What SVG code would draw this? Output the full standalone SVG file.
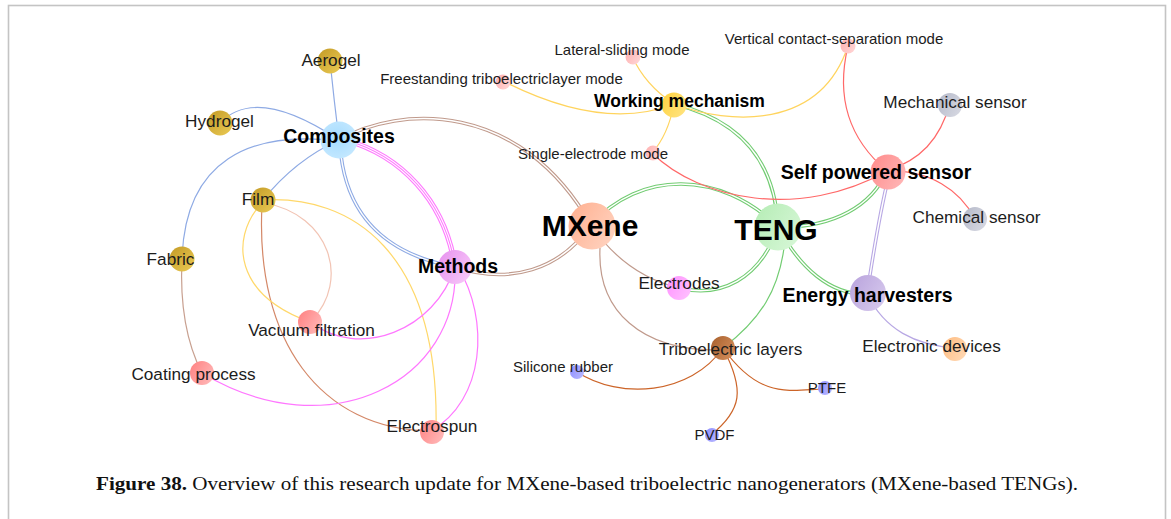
<svg xmlns="http://www.w3.org/2000/svg" xmlns:xlink="http://www.w3.org/1999/xlink" width="1171" height="519" viewBox="0 0 1171 519">
<style>
.e{fill:none;stroke-width:1.2}
.o{fill:none;stroke-width:3.6}
.i{fill:none;stroke:#fff;stroke-width:1.4}
.t5{fill:none;stroke-width:5.4}
.t3{fill:none;stroke:#fff;stroke-width:3.2}
.t1{fill:none;stroke-width:1.1}
.blue{stroke:#8eaae4}
.pink{stroke:#ff77ff}
.brown{stroke:#c09a8c}
.green{stroke:#72cc72}
.yellow{stroke:#ffd45e}
.red{stroke:#ff6868}
.purple{stroke:#b8a8e4}
.orange{stroke:#cc6428}
.lpink{stroke:#f2c4b4}
.yel2{stroke:#ffd86a}
.rbrown{stroke:#d48868}
.fbrown{stroke:#c8a090}
text{font-family:"Liberation Sans",Arial,sans-serif;fill:#1c1c1c;text-anchor:middle}
.s{font-size:15px}
.m{font-size:17.2px}
.b{font-size:19.5px;font-weight:bold;fill:#000}
.wb{font-size:17.5px;font-weight:bold;fill:#000}
.xl{font-size:30px;font-weight:bold;fill:#000}
.cap{font-family:"Liberation Serif","Times New Roman",serif;font-size:19px;text-anchor:start;fill:#111}
</style>
<defs>
<linearGradient id="gGold" x1="0" y1="0" x2="1" y2="1"><stop offset="0" stop-color="#c39a26"/><stop offset="1" stop-color="#ebcb55"/></linearGradient>
<linearGradient id="gRed" x1="0" y1="0" x2="1" y2="0.6"><stop offset="0" stop-color="#ff8080"/><stop offset="1" stop-color="#ffb4b4"/></linearGradient>
<linearGradient id="gLpink" x1="0" y1="0" x2="1" y2="0.6"><stop offset="0" stop-color="#ffb0b0"/><stop offset="1" stop-color="#ffd2d2"/></linearGradient>
<radialGradient id="gBlue" cx="0.45" cy="0.45" r="0.6"><stop offset="0" stop-color="#a6dcff"/><stop offset="1" stop-color="#c4e8ff"/></radialGradient>
<linearGradient id="gViolet" x1="0" y1="0" x2="1" y2="0.6"><stop offset="0" stop-color="#e690ee"/><stop offset="1" stop-color="#f6c4f8"/></linearGradient>
<linearGradient id="gMx" x1="0" y1="0" x2="1" y2="0.6"><stop offset="0" stop-color="#ffae8e"/><stop offset="1" stop-color="#ffd0bc"/></linearGradient>
<linearGradient id="gTeng" x1="0" y1="0" x2="1" y2="0.6"><stop offset="0" stop-color="#b4ecb4"/><stop offset="1" stop-color="#d4f6d4"/></linearGradient>
<linearGradient id="gYel" x1="0" y1="0" x2="1" y2="0.6"><stop offset="0" stop-color="#ffd23e"/><stop offset="1" stop-color="#ffe27a"/></linearGradient>
<linearGradient id="gSelf" x1="0" y1="0" x2="1" y2="0.6"><stop offset="0" stop-color="#ff8a8a"/><stop offset="1" stop-color="#ffb2b2"/></linearGradient>
<linearGradient id="gGray" x1="0" y1="0" x2="1" y2="0.6"><stop offset="0" stop-color="#b4b8c8"/><stop offset="1" stop-color="#d4d6e0"/></linearGradient>
<linearGradient id="gPur" x1="0" y1="0" x2="1" y2="0.6"><stop offset="0" stop-color="#b8a2dc"/><stop offset="1" stop-color="#d4c6ec"/></linearGradient>
<linearGradient id="gOra" x1="0" y1="0" x2="1" y2="0.6"><stop offset="0" stop-color="#ffbc80"/><stop offset="1" stop-color="#ffd6b0"/></linearGradient>
<linearGradient id="gMag" x1="0" y1="0" x2="1" y2="0.6"><stop offset="0" stop-color="#ff90ff"/><stop offset="1" stop-color="#ffbcff"/></linearGradient>
<linearGradient id="gTri" x1="0" y1="0" x2="1" y2="0.6"><stop offset="0" stop-color="#a8602c"/><stop offset="1" stop-color="#d08a58"/></linearGradient>
<linearGradient id="gBv" x1="0" y1="0" x2="1" y2="0.6"><stop offset="0" stop-color="#8c8cff"/><stop offset="1" stop-color="#b4b4ff"/></linearGradient>
<path id="p-comp-meth-b" d="M340,145 C345,220 390,255 455,267"/>
<path id="p-comp-meth-p" d="M345,140 C400,155 445,200 455,267"/>
<path id="p-comp-mx" d="M339,140 C400,105 520,100 591,225"/>
<path id="p-mx-meth" d="M591,225 C560,270 510,285 455,267"/>
<path id="p-mx-teng" d="M591,225 C640,170 720,170 778,227"/>
<path id="p-teng-wm" d="M674,104 C740,120 775,160 778,227"/>
<path id="p-teng-self" d="M778,227 C835,228 872,205 887,171"/>
<path id="p-teng-eh" d="M778,227 C800,268 830,295 867,294"/>
<path id="p-self-eh" d="M889,175 C878,220 874,250 867,294"/>
<path id="p-teng-el" d="M778,227 C760,280 720,298 679,288"/>
</defs>
<rect x="8.5" y="5.5" width="1157" height="540" fill="#fff" stroke="#c4c4c4" stroke-width="1.6"/>
<g id="connectors">
<path class="e blue" d="M339,140 Q334,100 330,61"/>
<path class="e blue" d="M220,123 Q256,85 339,140"/>
<path class="e blue" d="M339,141 C250,130 185,160 182,259"/>
<path class="e blue" d="M339,140 Q295,160 263,200"/>
<use xlink:href="#p-comp-meth-b" class="o blue"/>
<use xlink:href="#p-comp-meth-b" class="i"/>
<use xlink:href="#p-comp-meth-p" class="t5 pink"/>
<use xlink:href="#p-comp-meth-p" class="t3"/>
<use xlink:href="#p-comp-meth-p" class="t1 pink"/>
<use xlink:href="#p-comp-mx" class="o brown"/>
<use xlink:href="#p-comp-mx" class="i"/>
<path class="e yel2" d="M263,200 C350,195 440,250 436,431"/>
<path class="e rbrown" d="M262,205 C255,340 320,430 431,431"/>
<path class="e yel2" d="M260,205 C230,240 235,295 310,322"/>
<path class="e lpink" d="M265,203 C330,215 350,280 312,320"/>
<path class="e fbrown" d="M182,259 C180,300 185,340 202,373"/>
<path class="e pink" d="M455,267 C435,330 360,360 310,322"/>
<path class="e pink" d="M455,267 C460,380 330,450 202,373"/>
<path class="e pink" d="M458,267 C490,320 485,400 431,431"/>
<use xlink:href="#p-mx-meth" class="o brown"/>
<use xlink:href="#p-mx-meth" class="i"/>
<use xlink:href="#p-mx-teng" class="o green"/>
<use xlink:href="#p-mx-teng" class="i"/>
<path class="e brown" d="M591,225 Q625,275 679,288"/>
<path class="e brown" d="M600,248 C597,310 640,352 723,350"/>
<use xlink:href="#p-teng-wm" class="o green"/>
<use xlink:href="#p-teng-wm" class="i"/>
<use xlink:href="#p-teng-self" class="o green"/>
<use xlink:href="#p-teng-self" class="i"/>
<use xlink:href="#p-teng-eh" class="o green"/>
<use xlink:href="#p-teng-eh" class="i"/>
<use xlink:href="#p-teng-el" class="o green"/>
<use xlink:href="#p-teng-el" class="i"/>
<path class="e green" d="M785,240 C780,290 760,320 723,348"/>
<path class="e yellow" d="M632,56 Q645,85 674,104"/>
<path class="e yellow" d="M503,81 C560,110 620,125 674,104"/>
<path class="e yellow" d="M674,104 C730,125 820,130 848,46"/>
<path class="e yellow" d="M674,104 Q668,135 652,153"/>
<path class="e red" d="M652,153 C700,200 800,220 887,171"/>
<path class="e red" d="M848,46 C835,100 850,140 887,171"/>
<path class="e red" d="M887,171 C920,160 940,140 950,103"/>
<path class="e red" d="M887,171 C930,170 960,190 975,219"/>
<use xlink:href="#p-self-eh" class="o purple"/>
<use xlink:href="#p-self-eh" class="i"/>
<path class="e purple" d="M867,294 C885,330 915,345 955,348"/>
<path class="e orange" d="M723,348 C690,395 620,400 577,372"/>
<path class="e orange" d="M723,348 C760,400 790,390 824,389"/>
<path class="e orange" d="M723,348 C745,390 742,410 711,435"/>
</g>
<g id="node-aerogel"><circle cx="330" cy="61" r="12.5" fill="url(#gGold)"/><text class="m" x="331" y="66">Aerogel</text></g>
<g id="node-hydrogel"><circle cx="220" cy="123" r="12.5" fill="url(#gGold)"/><text class="m" x="219.5" y="127">Hydrogel</text></g>
<g id="node-film"><circle cx="263" cy="200" r="12.5" fill="url(#gGold)"/><text class="m" x="258" y="205">Film</text></g>
<g id="node-fabric"><circle cx="182" cy="259" r="12.5" fill="url(#gGold)"/><text class="m" x="170.5" y="265">Fabric</text></g>
<g id="node-composites"><circle cx="339" cy="140" r="18.5" fill="url(#gBlue)"/><text class="b" x="339" y="143">Composites</text></g>
<g id="node-methods"><circle cx="455" cy="267" r="17" fill="url(#gViolet)"/><text class="b" x="458" y="273">Methods</text></g>
<g id="node-vacuum"><circle cx="310" cy="322" r="12" fill="url(#gRed)"/><text class="m" x="311.5" y="336">Vacuum filtration</text></g>
<g id="node-coating"><circle cx="202" cy="373" r="12" fill="url(#gRed)"/><text class="m" x="193.5" y="380">Coating process</text></g>
<g id="node-electrospun"><circle cx="432" cy="432" r="12" fill="url(#gRed)"/><text class="m" x="432" y="432">Electrospun</text></g>
<g id="node-mxene"><circle cx="592" cy="226" r="23.5" fill="url(#gMx)"/><text class="xl" x="590" y="236">MXene</text></g>
<g id="node-teng"><circle cx="778" cy="227" r="23.5" fill="url(#gTeng)"/><text class="xl" x="776" y="240">TENG</text></g>
<g id="node-working"><circle cx="674" cy="105" r="12.5" fill="url(#gYel)"/><text class="wb" x="679.5" y="107">Working mechanism</text></g>
<g id="node-lateral"><circle cx="633" cy="57" r="7.5" fill="url(#gLpink)"/><text class="s" x="622" y="55">Lateral-sliding mode</text></g>
<g id="node-freestanding"><circle cx="503" cy="82" r="7.5" fill="url(#gLpink)"/><text class="s" x="501.5" y="84">Freestanding triboelectriclayer mode</text></g>
<g id="node-vertical"><circle cx="848" cy="46" r="7.5" fill="url(#gLpink)"/><text class="s" x="834" y="44">Vertical contact-separation mode</text></g>
<g id="node-single"><circle cx="653" cy="153" r="7.5" fill="url(#gLpink)"/><text class="s" x="593" y="159">Single-electrode mode</text></g>
<g id="node-self"><circle cx="888" cy="172" r="17.5" fill="url(#gSelf)"/><text class="b" x="876" y="179">Self powered sensor</text></g>
<g id="node-mechanical"><circle cx="950" cy="105" r="12" fill="url(#gGray)"/><text class="m" x="955" y="108">Mechanical sensor</text></g>
<g id="node-chemical"><circle cx="975" cy="219" r="12" fill="url(#gGray)"/><text class="m" x="976.5" y="223">Chemical sensor</text></g>
<g id="node-energy"><circle cx="868" cy="293" r="18" fill="url(#gPur)"/><text class="b" x="867.5" y="302">Energy harvesters</text></g>
<g id="node-electronic"><circle cx="955" cy="349" r="12" fill="url(#gOra)"/><text class="m" x="931.5" y="352">Electronic devices</text></g>
<g id="node-electrodes"><circle cx="679" cy="288" r="12" fill="url(#gMag)"/><text class="m" x="679" y="289">Electrodes</text></g>
<g id="node-tribo"><circle cx="723" cy="348" r="12" fill="url(#gTri)"/><text class="m" x="730.5" y="355">Triboelectric layers</text></g>
<g id="node-silicone"><circle cx="577" cy="372" r="7" fill="url(#gBv)"/><text class="s" x="563" y="372">Silicone rubber</text></g>
<g id="node-ptfe"><circle cx="825" cy="388" r="7" fill="url(#gBv)"/><text class="s" x="827" y="393">PTFE</text></g>
<g id="node-pvdf"><circle cx="712" cy="435" r="7" fill="url(#gBv)"/><text class="s" x="714.5" y="440">PVDF</text></g>
<text class="cap" x="96" y="490" textLength="982" lengthAdjust="spacingAndGlyphs"><tspan font-weight="bold">Figure 38.</tspan> Overview of this research update for MXene-based triboelectric nanogenerators (MXene-based TENGs).</text>
</svg>
